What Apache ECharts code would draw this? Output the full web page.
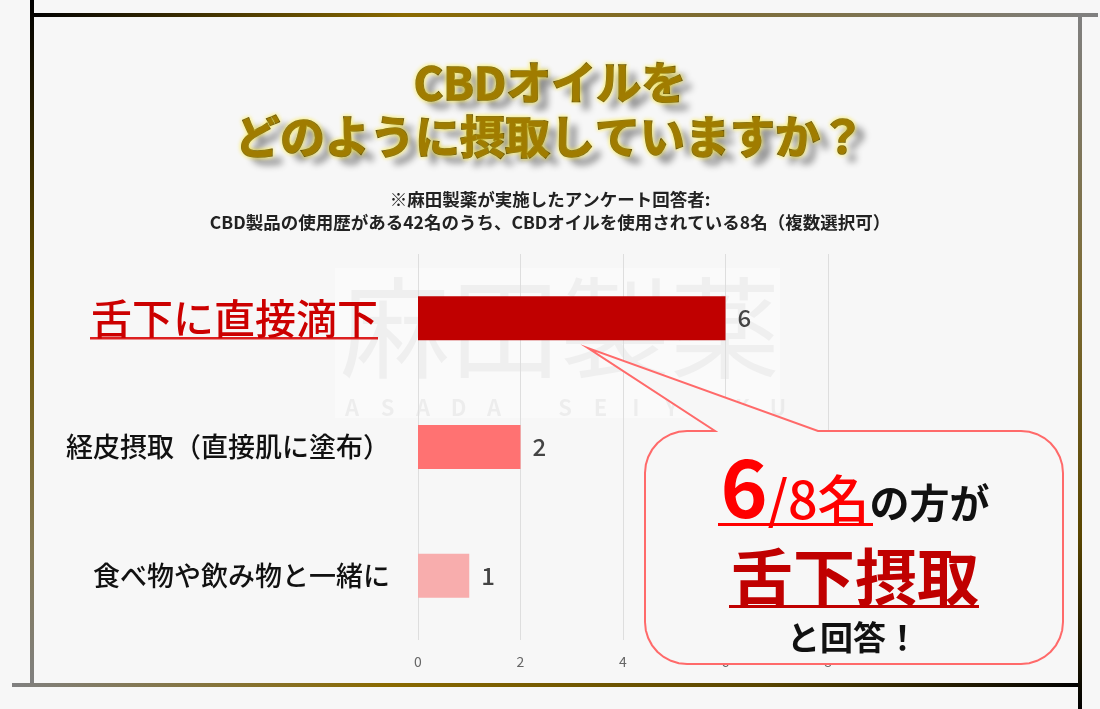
<!DOCTYPE html>
<html>
<head>
<meta charset="utf-8">
<script src="https://cdn.jsdelivr.net/npm/echarts@6/dist/echarts.min.js"></script>
<style>
  html, body { margin: 0; padding: 0; background: #f7f7f7; }
  #main { width: 1100px; height: 709px; }
</style>
</head>
<body>
<div id="main"></div>
<script>
// data
var categories = ['舌下に直接滴下', '経皮摂取（直接肌に塗布）', '食べ物や飲み物と一緒に'];
var counts = [6, 2, 1];
var xTicks = [0, 2, 4, 6, 8];

var barColors = ['#c00000', '#ff7272', '#f8adad'];
var FONT = '"Noto Sans CJK JP", "Noto Sans", sans-serif';

var chartDom = document.getElementById('main');
var myChart = echarts.init(chartDom);

function grad(x2, y2, stops) {
  return new echarts.graphic.LinearGradient(0, 0, x2, y2, stops);
}

// speech bubble outline: rounded box plus a tail pointing at the top bar
function bubblePoints(l, t, r, b, rad, tail) {
  var pts = [];
  function arc(cx, cy, a0, a1) {
    for (var k = 0; k <= 8; k++) {
      var a = a0 + (a1 - a0) * k / 8;
      pts.push([cx + rad * Math.cos(a), cy + rad * Math.sin(a)]);
    }
  }
  arc(l + rad, t + rad, Math.PI, Math.PI * 1.5);
  pts.push([tail[0], t], tail[1], [tail[2], t]);
  arc(r - rad, t + rad, Math.PI * 1.5, Math.PI * 2);
  arc(r - rad, b - rad, 0, Math.PI * 0.5);
  arc(l + rad, b - rad, Math.PI * 0.5, Math.PI);
  return pts;
}

// watermark letters
var wmLetters = 'ASADA SEIYAKU'.split('');
var wmGraphics = [];
wmLetters.forEach(function (ch, i) {
  if (ch === ' ') return;
  wmGraphics.push({
    type: 'text', silent: true, z: -1,
    x: 352 + i * 35.5, y: 408,
    style: { text: ch, font: 'bold 22px ' + FONT, fill: 'rgba(0,0,0,0.05)', align: 'center', verticalAlign: 'middle' }
  });
});

var titleText = 'CBDオイルを\nどのように摂取していますか？';

var option = {
  backgroundColor: '#f7f7f7',
  textStyle: { fontFamily: FONT },
  title: [
    {
      text: titleText, left: 'center', top: 56, padding: 0, z: 5,
      textStyle: {
        fontFamily: FONT, fontSize: 45, fontWeight: 'bold', lineHeight: 54,
        color: '#8c6c00',
        textShadowColor: 'rgba(0,0,0,0.45)', textShadowBlur: 7,
        textShadowOffsetX: 10, textShadowOffsetY: 8
      }
    },
    {
      text: titleText, left: 'center', top: 56, padding: 0, z: 6,
      textStyle: {
        fontFamily: FONT, fontSize: 45, fontWeight: 'bold', lineHeight: 54,
        color: '#a07c00',
        textBorderColor: '#3a2b00', textBorderWidth: 1.5,
        textShadowColor: 'rgba(255,235,60,0.9)', textShadowBlur: 4
      }
    },
    {
      text: '※麻田製薬が実施したアンケート回答者:\nCBD製品の使用歴がある42名のうち、CBDオイルを使用されている8名（複数選択可）',
      left: 'center', top: 188, padding: 0,
      textStyle: { fontFamily: FONT, fontSize: 17.5, fontWeight: 'bold', lineHeight: 23, color: '#222' }
    }
  ],
  grid: { left: 418, right: 272, top: 254, bottom: 69, containLabel: false },
  xAxis: {
    type: 'value', min: xTicks[0], max: xTicks[xTicks.length - 1], interval: xTicks[1] - xTicks[0],
    axisLine: { show: false }, axisTick: { show: false },
    axisLabel: { color: '#666', fontSize: 14, margin: 15, fontFamily: FONT },
    splitLine: { lineStyle: { color: '#dedede', width: 1 } }
  },
  yAxis: {
    type: 'category', data: categories, inverse: true,
    axisLine: { show: false }, axisTick: { show: false },
    axisLabel: {
      margin: 28,
      formatter: function (v, i) {
        return i === 0 ? '{hi|' + v + '}' : '{n|' + v + '}';
      },
      rich: {
        hi: { fontFamily: FONT, fontSize: 41, fontWeight: 500, color: '#cc0000', padding: [0, 12, 0, 0] },
        n: { fontFamily: FONT, fontSize: 27, fontWeight: 500, color: '#111' }
      }
    }
  },
  series: [{
    type: 'bar',
    barWidth: 44,
    data: counts.map(function (v, i) {
      return { value: v, itemStyle: { color: barColors[i] } };
    }),
    label: {
      show: true, position: 'right', distance: 12,
      fontFamily: FONT, fontSize: 24, fontWeight: 500, color: '#444'
    },
    z: 3
  }],
  graphic: [
    // watermark
    { type: 'rect', silent: true, z: -2, shape: { x: 335, y: 268, width: 445, height: 150 }, style: { fill: 'rgba(255,255,255,0.35)' } },
    { type: 'text', silent: true, z: -1, x: 560, y: 328,
      style: { text: '麻田製薬', font: '110px ' + FONT, fill: 'rgba(0,0,0,0.045)', align: 'center', verticalAlign: 'middle' } }
  ].concat(wmGraphics).concat([
    // underline under highlighted category label
    { type: 'rect', silent: true, shape: { x: 90, y: 337, width: 288, height: 2.5 }, style: { fill: '#dd2020' } },

    // frame
    { type: 'rect', silent: true, z: 10, shape: { x: 30, y: 13, width: 1068, height: 4 },
      style: { fill: grad(1, 0, [{ offset: 0, color: '#000' }, { offset: 0.35, color: '#8a6a00' }, { offset: 0.65, color: '#7d6c35' }, { offset: 1, color: '#808080' }]) } },
    { type: 'rect', silent: true, z: 10, shape: { x: 30, y: 0, width: 4, height: 686 },
      style: { fill: grad(0, 1, [{ offset: 0, color: '#000' }, { offset: 0.45, color: '#6e5600' }, { offset: 0.8, color: '#857a55' }, { offset: 1, color: '#808080' }]) } },
    { type: 'rect', silent: true, z: 10, shape: { x: 12, y: 683, width: 1070, height: 4 },
      style: { fill: grad(1, 0, [{ offset: 0, color: '#808080' }, { offset: 0.35, color: '#8a6a00' }, { offset: 0.7, color: '#5a4600' }, { offset: 1, color: '#000' }]) } },
    { type: 'rect', silent: true, z: 10, shape: { x: 1078, y: 14, width: 4, height: 695 },
      style: { fill: grad(0, 1, [{ offset: 0, color: '#808080' }, { offset: 0.4, color: '#7d6c35' }, { offset: 0.75, color: '#5a4600' }, { offset: 1, color: '#000' }]) } },

    // callout bubble
    { type: 'polygon', silent: true, z: 20,
      shape: { points: bubblePoints(645, 431, 1063, 664, 42, [715, [588, 348], 818]) },
      style: { fill: '#f7f7f7', stroke: '#ff6a6a', lineWidth: 2 } },
    { type: 'text', silent: true, z: 21, x: 855, y: 488,
      style: {
        text: '{a|6}{b|/8名}{c|の方が}', align: 'center', verticalAlign: 'middle',
        rich: {
          a: { fontFamily: FONT, fontSize: 80, fontWeight: 'bold', lineHeight: 80, fill: '#ff0000', verticalAlign: 'bottom' },
          b: { fontFamily: FONT, fontSize: 52, fontWeight: 500, lineHeight: 52, fill: '#ff0000', verticalAlign: 'bottom', padding: [0, 0, 3, 0] },
          c: { fontFamily: FONT, fontSize: 40, fontWeight: 'bold', lineHeight: 40, fill: '#111', verticalAlign: 'bottom', padding: [0, 0, 5, 0] }
        }
      } },
    { type: 'rect', silent: true, z: 21, shape: { x: 718, y: 523, width: 155, height: 3 }, style: { fill: '#ff0000' } },
    { type: 'text', silent: true, z: 21, x: 855, y: 577,
      style: { text: '舌下摂取', font: 'bold 62px ' + FONT, fill: '#c00000', align: 'center', verticalAlign: 'middle' } },
    { type: 'rect', silent: true, z: 21, shape: { x: 729, y: 605, width: 250, height: 3 }, style: { fill: '#c00000' } },
    { type: 'text', silent: true, z: 21, x: 853, y: 637,
      style: { text: 'と回答！', font: 'bold 33px ' + FONT, fill: '#111', align: 'center', verticalAlign: 'middle' } }
  ])
};

option && myChart.setOption(option);
</script>
</body>
</html>
